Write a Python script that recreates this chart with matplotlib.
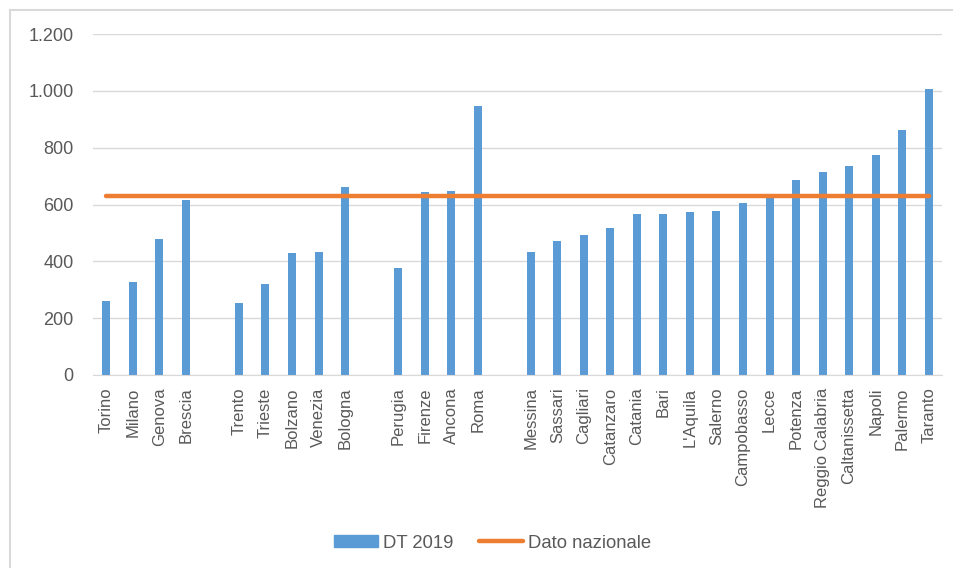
import matplotlib.pyplot as plt
import matplotlib.patches as mpatches
import matplotlib.ticker as mticker
import numpy as np

plt.rcParams['font.family'] = ['Liberation Sans', 'DejaVu Sans']

# categories ('' = empty slot between groups)
citta = ['Torino', 'Milano', 'Genova', 'Brescia', '',
         'Trento', 'Trieste', 'Bolzano', 'Venezia', 'Bologna', '',
         'Perugia', 'Firenze', 'Ancona', 'Roma', '',
         'Messina', 'Sassari', 'Cagliari', 'Catanzaro', 'Catania', 'Bari',
         "L'Aquila", 'Salerno', 'Campobasso', 'Lecce', 'Potenza',
         'Reggio Calabria', 'Caltanissetta', 'Napoli', 'Palermo', 'Taranto']
dt_2019 = [260, 327, 479, 616, None,
           253, 320, 430, 434, 663, None,
           375, 645, 649, 948, None,
           434, 472, 494, 516, 568, 568,
           575, 578, 604, 622, 685,
           716, 734, 774, 863, 1008]
dato_nazionale = 629

blu = '#5B9BD5'
arancio = '#ED7D31'
grigio = '#595959'

x = np.arange(len(citta))
vals = np.array([np.nan if v is None else v for v in dt_2019], dtype=float)

fig = plt.figure(figsize=(9.54, 5.68), dpi=100)
ax = fig.add_axes([0.0975, 0.3398, 0.8899, 0.6003])

ax.bar(x, vals, width=0.3, color=blu, zorder=2)
ax.plot(x, np.full(len(x), dato_nazionale), color=arancio, lw=3.2,
        solid_capstyle='round', zorder=3)

ax.set_xlim(-0.5, len(x) - 0.5)
ax.set_ylim(0, 1200)
ax.set_yticks(np.arange(0, 1201, 200))
ax.yaxis.set_major_formatter(mticker.FuncFormatter(lambda v, p: f'{int(v):,}'.replace(',', '.')))
ax.grid(axis='y', color='#D9D9D9', lw=1, zorder=0)
ax.set_xticks(x)
ax.set_xticklabels(citta, rotation=90)
ax.tick_params(axis='both', length=0, colors=grigio)
ax.tick_params(axis='y', pad=14, labelsize=13)
ax.tick_params(axis='x', pad=9, labelsize=12)
for s in ['top', 'right', 'left']:
    ax.spines[s].set_visible(False)
ax.spines['bottom'].set_color('#D9D9D9')

# legend
h_bar = mpatches.Patch(color=blu, label='DT 2019')
h_line, = ax.plot([], [], color=arancio, lw=3.2, solid_capstyle='round', label='Dato nazionale')
leg = fig.legend(handles=[h_bar, h_line], loc='center', bbox_to_anchor=(0.516, 0.044),
                 ncol=2, frameon=False, fontsize=13.3, handlelength=2.4, handleheight=0.55,
                 columnspacing=1.4, handletextpad=0.25)
for t in leg.get_texts():
    t.set_color(grigio)

# chart area border
fig.patches.append(mpatches.Rectangle((10 / 954, -0.1), 1.0, 1.1 - 10 / 568,
                                      transform=fig.transFigure, fill=False,
                                      edgecolor='#D9D9D9', lw=1.5))

fig.savefig('out.png', dpi=100)
